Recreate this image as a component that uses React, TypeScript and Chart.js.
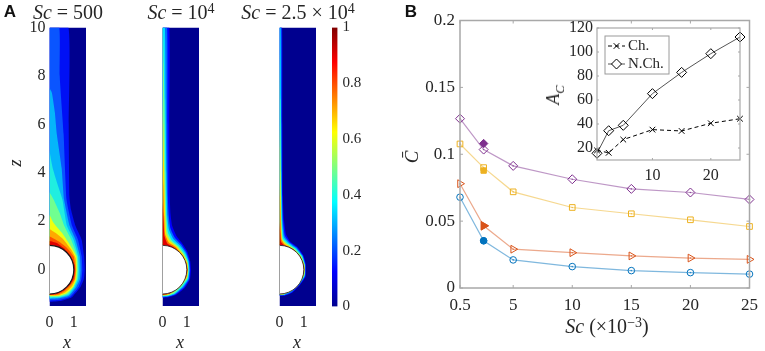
import React, { useEffect, useRef } from "react";
import { Chart, registerables } from "chart.js";
import { drawPoint } from "chart.js/helpers";

Chart.register(...registerables);

const SERIF = "'Liberation Serif', serif";
const TEXT = "#262626";

// ---- Panel A: contour levels as [x, z] boundaries, outer to inner ----
const contourColors500 = ["#0010f5", "#0a55ff", "#05b5fa", "#20eee0", "#70ff90", "#f0ff10", "#ffa800", "#ff5000", "#e00000"];
const fieldColors = ["#0000ff", "#0070ff", "#00e0ff", "#70ff90", "#ffe000", "#ff7000", "#e00000"];
const domain = [[1.5, 10], [1.5, -1.5], [0, -1.5]];
const xTicksA = [0, 1];
const zTicksA = [0, 2, 4, 6, 8, 10];

const sc500 = [
  [[0.78, 10], [0.79, 6], [0.82, 3], [0.88, 2.5], [1.07, 1.8], [1.32, 1.24], [1.42, 0.55], [1.45, 0], [1.41, -0.4], [1.28, -0.7], [0.9, -1.15], [0.5, -1.28], [0, -1.33]],
  [[0.4, 10], [0.42, 8], [0.58, 5.6], [0.7, 2.9], [0.93, 1.8], [1.17, 1.24], [1.32, 0.55], [1.35, 0], [1.31, -0.4], [1.2, -0.7], [0.85, -1.12], [0.45, -1.24], [0, -1.27]],
  [[0, 7.5], [0.1, 7.3], [0.22, 6.5], [0.3, 5.6], [0.5, 4.2], [0.6, 2.9], [0.83, 1.8], [1.07, 1.24], [1.25, 0.55], [1.28, 0], [1.25, -0.4], [1.11, -0.7], [0.8, -1.08], [0.42, -1.18], [0, -1.21]],
  [[0, 4.9], [0.13, 4.2], [0.37, 3.4], [0.53, 2.9], [0.72, 1.8], [0.99, 1.24], [1.18, 0.55], [1.21, 0], [1.18, -0.4], [1.05, -0.7], [0.78, -1.04], [0.4, -1.15], [0, -1.17]],
  [[0, 3.2], [0.17, 2.9], [0.42, 2.34], [0.61, 1.8], [0.89, 1.24], [1.14, 0.55], [1.17, 0], [1.14, -0.4], [1.0, -0.7], [0.75, -1.0], [0.38, -1.12], [0, -1.13]],
  [[0, 2.27], [0.17, 1.93], [0.51, 1.52], [0.79, 1.1], [1.1, 0.55], [1.12, 0], [1.1, -0.4], [0.98, -0.7], [0.7, -0.97], [0.36, -1.08], [0, -1.09]],
  [[0, 1.68], [0.24, 1.52], [0.58, 1.24], [0.89, 0.83], [1.07, 0.48], [1.1, 0], [1.06, -0.4], [0.94, -0.66], [0.66, -0.93], [0.35, -1.06], [0, -1.07]],
  [[0, 1.38], [0.37, 1.17], [0.72, 0.9], [0.99, 0.55], [1.07, 0], [1.03, -0.4], [0.9, -0.6], [0.62, -0.88], [0.33, -1.03], [0, -1.05]],
  [[0, 1.18], [0.3, 1.1], [0.6, 0.88], [0.86, 0.58], [1.03, 0.2], [1.04, 0], [1.0, -0.35], [0.85, -0.6], [0.6, -0.85], [0.3, -1.0], [0, -1.03]],
];

const sc1e4 = [
  [[0.28, 10], [0.28, 6], [0.3, 3], [0.33, 2.3], [0.4, 1.8], [0.58, 1.38], [0.8, 1.1], [1.02, 0.75], [1.14, 0.35], [1.17, 0], [1.13, -0.4], [0.92, -0.75], [0.55, -1.05], [0.25, -1.14], [0, -1.16]],
  [[0.19, 10], [0.2, 6], [0.22, 3], [0.26, 2.2], [0.33, 1.7], [0.5, 1.33], [0.76, 1.05], [0.98, 0.72], [1.1, 0.35], [1.13, 0], [1.09, -0.4], [0.88, -0.73], [0.52, -1.03], [0.24, -1.12], [0, -1.14]],
  [[0.1, 10], [0.13, 7], [0.16, 4], [0.2, 2.2], [0.27, 1.65], [0.44, 1.28], [0.7, 1.02], [0.94, 0.7], [1.07, 0.35], [1.1, 0], [1.06, -0.38], [0.84, -0.7], [0.5, -1.0], [0.23, -1.09], [0, -1.11]],
  [[0.02, 10], [0.05, 8.5], [0.08, 7], [0.12, 4], [0.16, 2.2], [0.22, 1.55], [0.38, 1.22], [0.65, 0.98], [0.9, 0.66], [1.04, 0.33], [1.07, 0], [1.03, -0.35], [0.8, -0.68], [0.47, -0.98], [0.21, -1.07], [0, -1.09]],
  [[0, 7.2], [0.03, 6], [0.07, 4.2], [0.11, 2.4], [0.16, 1.5], [0.32, 1.17], [0.6, 0.95], [0.86, 0.62], [1.02, 0.3], [1.05, 0], [1.01, -0.32], [0.76, -0.65], [0.44, -0.93], [0.2, -1.05], [0, -1.07]],
  [[0, 4.5], [0.03, 3.5], [0.07, 2.2], [0.11, 1.45], [0.26, 1.12], [0.55, 0.93], [0.82, 0.6], [0.99, 0.28], [1.03, 0], [0.99, -0.28], [0.74, -0.66], [0.42, -0.92], [0.18, -1.03], [0, -1.05]],
  [[0, 2.8], [0.05, 1.9], [0.08, 1.4], [0.2, 1.08], [0.5, 0.9], [0.78, 0.6], [0.97, 0.25], [1.02, 0], [0.98, -0.2], [0.72, -0.7], [0.3, -0.98], [0, -1.03]],
];

const sc25e3 = [
  [[0.11, 10], [0.12, 6], [0.14, 3], [0.18, 2.1], [0.27, 1.45], [0.45, 1.15], [0.75, 0.92], [0.98, 0.6], [1.08, 0.25], [1.09, 0], [1.07, -0.3], [0.85, -0.62], [0.52, -0.95], [0.2, -1.08], [0, -1.09]],
  [[0.08, 10], [0.09, 6], [0.11, 3], [0.15, 2.0], [0.22, 1.4], [0.42, 1.12], [0.72, 0.9], [0.96, 0.58], [1.06, 0.23], [1.07, 0], [1.05, -0.28], [0.83, -0.6], [0.5, -0.93], [0.19, -1.06], [0, -1.07]],
  [[0.04, 10], [0.06, 7], [0.08, 4], [0.11, 2.0], [0.18, 1.35], [0.38, 1.1], [0.68, 0.88], [0.94, 0.56], [1.04, 0.22], [1.05, 0], [1.03, -0.26], [0.81, -0.6], [0.48, -0.9], [0.18, -1.04], [0, -1.05]],
  [[0, 9], [0.03, 7], [0.06, 4], [0.09, 2.0], [0.14, 1.3], [0.33, 1.08], [0.64, 0.86], [0.91, 0.55], [1.03, 0.2], [1.04, 0], [1.02, -0.24], [0.8, -0.6], [0.46, -0.89], [0.17, -1.03], [0, -1.04]],
  [[0, 6], [0.02, 5], [0.05, 3], [0.07, 1.9], [0.11, 1.25], [0.28, 1.06], [0.6, 0.84], [0.88, 0.53], [1.02, 0.2], [1.03, 0], [1.01, -0.22], [0.78, -0.6], [0.44, -0.88], [0.16, -1.02], [0, -1.03]],
  [[0, 3.6], [0.02, 3], [0.05, 1.9], [0.08, 1.25], [0.22, 1.04], [0.55, 0.85], [0.84, 0.56], [1.0, 0.2], [1.02, 0], [0.99, -0.2], [0.76, -0.62], [0.4, -0.9], [0, -1.02]],
  [[0, 2], [0.03, 1.5], [0.06, 1.15], [0.18, 1.02], [0.5, 0.87], [0.8, 0.6], [0.98, 0.2], [1.01, 0], [0.98, -0.2], [0.72, -0.7], [0.3, -0.96], [0, -1.01]],
];

const cylinderCentre = [[0, 0]];
const cylinderEdge = [[0, -1], [0, 1]];

// ---- Colour bar ----
const barLimits = [0, 1];
const barTicks = [0, 0.2, 0.4, 0.6, 0.8, 1];
const jetStops = [
  [0, "#00008f"], [0.125, "#0000ff"], [0.375, "#00ffff"], [0.625, "#ffff00"], [0.875, "#ff0000"], [1, "#800000"],
];

// ---- Panel B ----
const scValues = [0.5, 2.5, 5, 10, 15, 20, 25];
const mainXTicks = [0.5, 5, 10, 15, 20, 25];
const mainYTicks = [0, 0.05, 0.1, 0.15, 0.2];
const blueCircles = [0.0679, 0.0353, 0.021, 0.016, 0.013, 0.0115, 0.0104];
const orangeTriangles = [0.078, 0.0465, 0.029, 0.0264, 0.024, 0.0224, 0.0214];
const yellowSquares = [0.1077, 0.09, 0.0719, 0.0602, 0.0555, 0.051, 0.046];
const purpleDiamonds = [0.1266, 0.1035, 0.0913, 0.0813, 0.0741, 0.0714, 0.0662];
const filledSc = 2.5;
const filledBlue = 0.0353;
const filledOrange = 0.0465;
const filledYellow = 0.0878;
const filledPurple = 0.108;

const insetXTicks = [10, 20];
const insetYTicks = [20, 40, 60, 80, 100, 120];
const channelArea = [18, 16, 27, 35.3, 34.2, 40.6, 44.4];
const noChannelArea = [15.6, 34.4, 38.9, 65.3, 83, 98.6, 112.5];

type Rect = { l: number; t: number; r: number; b: number };

const tickFont = (size: number) => ({ family: SERIF, size });
const fmt = (v: any) => String(v);
const setTicks = (list: number[]) => (s: any) => {
  s.ticks = list.map((value) => ({ value }));
};

function padding(rect: Rect, yW: number, xH: number, yRight = false) {
  return {
    left: rect.l - (yRight ? 0 : yW),
    right: 765 - rect.r - (yRight ? yW : 0),
    top: rect.t,
    bottom: 351 - rect.b - xH,
  };
}

const boxPlugin = {
  id: "matlabBox",
  afterDatasetsDraw(chart: any, _a: any, o: any) {
    if (!o || !o.color) return;
    const { ctx, chartArea: a, scales } = chart;
    ctx.save();
    ctx.strokeStyle = o.color;
    ctx.lineWidth = o.width;
    ctx.strokeRect(a.left, a.top, a.right - a.left, a.bottom - a.top);
    const len = o.tick;
    ctx.lineWidth = 1;
    ctx.beginPath();
    scales.x.ticks.forEach((t: any) => {
      const p = scales.x.getPixelForValue(t.value);
      ctx.moveTo(p, a.bottom); ctx.lineTo(p, a.bottom - len);
      ctx.moveTo(p, a.top); ctx.lineTo(p, a.top + len);
    });
    scales.y.ticks.forEach((t: any) => {
      const p = scales.y.getPixelForValue(t.value);
      ctx.moveTo(a.left, p); ctx.lineTo(a.left + len, p);
      ctx.moveTo(a.right, p); ctx.lineTo(a.right - len, p);
    });
    ctx.stroke();
    ctx.restore();
  },
};

const insetLegend = {
  id: "insetLegend",
  afterDatasetsDraw(chart: any, _a: any, o: any) {
    if (!o || !o.rows) return;
    const { ctx } = chart;
    ctx.save();
    ctx.fillStyle = "#fff";
    ctx.strokeStyle = "#9a9a9a";
    ctx.lineWidth = 1;
    ctx.fillRect(o.x, o.y, o.w, o.h);
    ctx.strokeRect(o.x, o.y, o.w, o.h);
    o.rows.forEach((row: number, i: number) => {
      const d = chart.data.datasets[i];
      const yy = o.y + row;
      ctx.strokeStyle = d.borderColor;
      ctx.lineWidth = 1;
      ctx.setLineDash(d.borderDash || []);
      ctx.beginPath();
      ctx.moveTo(o.x + 3, yy);
      ctx.lineTo(o.x + 20, yy);
      ctx.stroke();
      ctx.setLineDash([]);
      ctx.strokeStyle = "#000000";
      ctx.fillStyle = "#fff";
      drawPoint(ctx, { pointStyle: d.pointStyle, radius: d.pointRadius, borderWidth: 1, rotation: 0 }, o.x + 11.5, yy);
      ctx.fillStyle = TEXT;
      ctx.font = `15px ${SERIF}`;
      ctx.textBaseline = "middle";
      ctx.textAlign = "left";
      ctx.fillText(d.label, o.x + 23, yy);
    });
    ctx.restore();
  },
};

function contourChart(canvas: HTMLCanvasElement, levels: number[][][], colors: string[], rect: Rect, showZ: boolean, ringWidth: number) {
  const toXY = (pts: number[][]) => pts.map(([x, y]) => ({ x, y }));
  const band = (pts: number[][], color: string) => ({
    type: "scatter",
    data: toXY([[0, pts[0][1]], ...pts]),
    showLine: true,
    fill: "shape",
    backgroundColor: color,
    borderWidth: 0,
    pointRadius: 0,
    tension: 0.15,
  });
  return new Chart(canvas, {
    type: "scatter",
    data: {
      // Chart.js paints the first dataset last, so the cylinder comes first.
      datasets: [
        {
          data: toXY(cylinderEdge),
          showLine: true,
          borderColor: "#a0a0a0",
          borderWidth: 1,
          pointRadius: 0,
          clip: 2,
        },
        {
          data: toXY(cylinderCentre),
          pointStyle: "circle",
          backgroundColor: "#ffffff",
          borderColor: "#1a1a1a",
          borderWidth: ringWidth,
          clip: 0,
          pointRadius: (c: any) => {
            const s = c.chart.scales.x;
            return s.getPixelForValue(1) - s.getPixelForValue(0);
          },
        },
        ...levels.map((l, i) => band(l, colors[i])).reverse(),
        band(domain, "#00008f"),
      ],
    } as any,
    options: {
      responsive: false,
      animation: false,
      layout: { padding: padding(rect, showZ ? 40 : 0, 30) },
      plugins: { legend: { display: false }, tooltip: { enabled: false } },
      scales: {
        x: {
          min: 0, max: 1.5,
          grid: { display: false, drawTicks: false }, border: { display: false },
          afterBuildTicks: setTicks(xTicksA),
          afterFit: (s: any) => { s.height = 30; },
          ticks: { font: tickFont(16), color: TEXT, padding: 7, callback: fmt, maxRotation: 0, autoSkip: false },
        },
        y: {
          min: -1.5, max: 10,
          display: showZ,
          grid: { display: false, drawTicks: false }, border: { display: false },
          afterBuildTicks: setTicks(zTicksA),
          afterFit: (s: any) => { s.width = showZ ? 40 : 0; },
          ticks: { font: tickFont(16), color: TEXT, padding: 4, callback: fmt },
        },
      },
    },
  } as any);
}

function colorBarChart(canvas: HTMLCanvasElement, rect: Rect) {
  return new Chart(canvas, {
    type: "bar",
    data: {
      labels: ["C"],
      datasets: [
        {
          data: [barLimits],
          barPercentage: 1,
          categoryPercentage: 1,
          backgroundColor: (c: any) => {
            const a = c.chart.chartArea;
            if (!a) return "#000";
            const g = c.chart.ctx.createLinearGradient(0, a.bottom, 0, a.top);
            jetStops.forEach(([p, col]) => g.addColorStop(p as number, col as string));
            return g;
          },
        },
      ],
    },
    options: {
      responsive: false,
      animation: false,
      layout: { padding: padding(rect, 30, 0, true) },
      plugins: { legend: { display: false }, tooltip: { enabled: false } },
      scales: {
        x: { display: false },
        y: {
          position: "right",
          min: 0, max: 1,
          grid: { display: false, drawTicks: false }, border: { display: false },
          afterBuildTicks: setTicks(barTicks),
          afterFit: (s: any) => { s.width = 30; },
          ticks: { font: tickFont(15), color: TEXT, padding: 5, callback: fmt },
        },
      },
    },
  } as any);
}

function mainChart(canvas: HTMLCanvasElement, rect: Rect) {
  const line = (values: number[], color: string, pointStyle: string, rotation: number, r: number) => ({
    type: "line",
    data: values.map((y, i) => ({ x: scValues[i], y })),
    borderColor: color + "80",
    pointBorderColor: color,
    pointBackgroundColor: "transparent",
    borderWidth: 1.2,
    pointBorderWidth: 1,
    pointRadius: r,
    pointStyle,
    pointRotation: rotation,
    clip: false,
    tension: 0,
  });
  const dots = (values: number[], color: string) => ({
    type: "scatter",
    data: values.map((y, i) => ({ x: scValues[i], y })),
    backgroundColor: color + "b0",
    borderWidth: 0,
    pointRadius: 0.8,
    clip: false,
  });
  const solid = (y: number, color: string, pointStyle: string, rotation: number, r: number) => ({
    type: "scatter",
    data: [{ x: filledSc, y }],
    backgroundColor: color,
    borderColor: color,
    pointRadius: r,
    pointStyle,
    pointRotation: rotation,
    clip: false,
  });
  return new Chart(canvas, {
    type: "scatter",
    data: {
      datasets: [
        solid(filledBlue, "#0072BD", "circle", 0, 3.2),
        solid(filledOrange, "#D95319", "triangle", 90, 5),
        solid(filledYellow, "#EDB120", "rect", 0, 3.8),
        solid(filledPurple, "#7E2F8E", "rectRot", 0, 4.2),
        dots(blueCircles, "#0072BD"),
        dots(orangeTriangles, "#D95319"),
        dots(yellowSquares, "#EDB120"),
        dots(purpleDiamonds, "#7E2F8E"),
        line(blueCircles, "#0072BD", "circle", 0, 3.3),
        line(orangeTriangles, "#D95319", "triangle", 90, 4.5),
        line(yellowSquares, "#EDB120", "rect", 0, 4),
        line(purpleDiamonds, "#7E2F8E", "rectRot", 0, 4.5),
      ],
    } as any,
    options: {
      responsive: false,
      animation: false,
      layout: { padding: padding(rect, 50, 30) },
      plugins: {
        legend: { display: false },
        tooltip: { enabled: false },
        matlabBox: { color: "#a8a8a8", width: 1.5, tick: 3 },
      },
      scales: {
        x: {
          type: "linear", min: 0.5, max: 25,
          grid: { display: false, drawTicks: false }, border: { display: false },
          afterBuildTicks: setTicks(mainXTicks),
          afterFit: (s: any) => { s.height = 30; },
          ticks: { font: tickFont(17), color: TEXT, padding: 7, callback: fmt, maxRotation: 0, autoSkip: false },
        },
        y: {
          min: 0, max: 0.2,
          grid: { display: false, drawTicks: false }, border: { display: false },
          afterBuildTicks: setTicks(mainYTicks),
          afterFit: (s: any) => { s.width = 50; },
          ticks: { font: tickFont(17), color: TEXT, padding: 5, callback: fmt },
        },
      },
    },
    plugins: [boxPlugin],
  } as any);
}

function insetChart(canvas: HTMLCanvasElement, rect: Rect) {
  const line = (label: string, values: number[], pointStyle: string, dash: number[], color: string, r: number) => ({
    type: "line",
    label,
    data: values.map((y, i) => ({ x: scValues[i], y })),
    borderColor: color,
    borderDash: dash,
    pointBorderColor: "#000000",
    pointBackgroundColor: "transparent",
    borderWidth: 1,
    pointBorderWidth: 1,
    pointRadius: r,
    pointStyle,
    clip: false,
    tension: 0,
  });
  return new Chart(canvas, {
    type: "scatter",
    data: {
      datasets: [
        line("Ch.", channelArea, "crossRot", [4, 3], "#000000", 4),
        line("N.Ch.", noChannelArea, "rectRot", [], "#555555", 5),
      ],
    } as any,
    options: {
      responsive: false,
      animation: false,
      layout: { padding: padding(rect, 40, 30) },
      plugins: {
        legend: { display: false },
        tooltip: { enabled: false },
        matlabBox: { color: "#a8a8a8", width: 1.2, tick: 2 },
        insetLegend: { x: 605, y: 36, w: 64, h: 38, rows: [10, 28] },
      },
      scales: {
        x: {
          type: "linear", min: 0.5, max: 25,
          grid: { display: false, drawTicks: false }, border: { display: false },
          afterBuildTicks: setTicks(insetXTicks),
          afterFit: (s: any) => { s.height = 30; },
          ticks: { font: tickFont(16), color: TEXT, padding: 6, callback: fmt, maxRotation: 0, autoSkip: false },
        },
        y: {
          min: 10, max: 120,
          grid: { display: false, drawTicks: false }, border: { display: false },
          afterBuildTicks: setTicks(insetYTicks),
          afterFit: (s: any) => { s.width = 40; },
          ticks: { font: tickFont(16), color: TEXT, padding: 4, callback: fmt },
        },
      },
    },
    plugins: [boxPlugin, insetLegend],
  } as any);
}

const centred = (x: number, y: number, size: number, rotate = 0): React.CSSProperties => ({
  position: "absolute",
  left: x,
  top: y,
  transform: `translate(-50%, -50%) rotate(${rotate}deg)`,
  fontFamily: SERIF,
  fontSize: size,
  color: TEXT,
  whiteSpace: "nowrap",
  lineHeight: 1,
});

export default function App() {
  const refs = useRef<(HTMLCanvasElement | null)[]>([]);
  useEffect(() => {
    const c = refs.current as HTMLCanvasElement[];
    const charts = [
      contourChart(c[0], sc500, contourColors500, { l: 49.5, t: 27.5, r: 86, b: 306 }, true, 1.2),
      contourChart(c[1], sc1e4, fieldColors, { l: 162.5, t: 27.5, r: 199, b: 306 }, false, 0.8),
      contourChart(c[2], sc25e3, fieldColors, { l: 279.5, t: 27.5, r: 316, b: 306 }, false, 0.8),
      colorBarChart(c[3], { l: 332, t: 27.5, r: 337.5, b: 306.5 }),
      mainChart(c[4], { l: 460, t: 20.5, r: 755, b: 288 }),
      insetChart(c[5], { l: 597, t: 28, r: 740, b: 160 }),
    ];
    return () => charts.forEach((ch) => ch.destroy());
  }, []);

  const canvasStyle: React.CSSProperties = { position: "absolute", left: 0, top: 0, width: 765, height: 351 };
  const sup: React.CSSProperties = { fontSize: "0.7em", verticalAlign: "0.45em", lineHeight: 0 };

  return (
    <div style={{ position: "absolute", left: 0, top: 0, width: 765, height: 351, overflow: "hidden", background: "#fff" }}>
      {[0, 1, 2, 3, 4, 5].map((i) => (
        <canvas key={i} width={765} height={351} style={canvasStyle} ref={(el) => { refs.current[i] = el; }} />
      ))}
      <div style={{ ...centred(10, 11, 17), fontFamily: "'Liberation Sans', sans-serif", fontWeight: 700, color: "#111" }}>A</div>
      <div style={{ ...centred(411, 11, 17), fontFamily: "'Liberation Sans', sans-serif", fontWeight: 700, color: "#111" }}>B</div>
      <div style={centred(68, 12, 20)}><i>Sc</i> = 500</div>
      <div style={centred(181, 12, 20)}><i>Sc</i> = 10<span style={sup}>4</span></div>
      <div style={centred(298, 12, 20)}><i>Sc</i> = 2.5 × 10<span style={sup}>4</span></div>
      <div style={centred(67, 342, 18)}><i>x</i></div>
      <div style={centred(180, 342, 18)}><i>x</i></div>
      <div style={centred(297, 342, 18)}><i>x</i></div>
      <div style={centred(15, 163, 18, -90)}><i>z</i></div>
      <div style={centred(411, 157, 19, -90)}><i>C̄</i></div>
      <div style={centred(607, 326, 20)}><i>Sc</i> (×10<span style={sup}>−3</span>)</div>
      <div style={centred(553, 95, 18, -90)}><i>A<sub style={{ fontSize: "0.7em", lineHeight: 0 }}>C</sub></i></div>
    </div>
  );
}
